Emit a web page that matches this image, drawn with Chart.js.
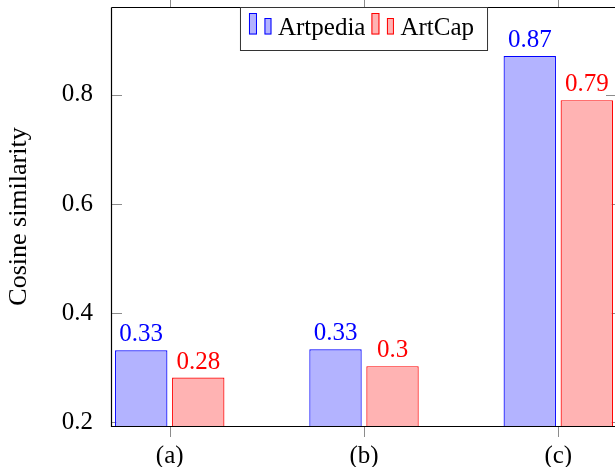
<!DOCTYPE html>
<html><head><meta charset="utf-8">
<script src="https://cdn.jsdelivr.net/npm/chart.js@4/dist/chart.umd.min.js"></script>
<style>html,body{margin:0;padding:0;background:#fff;overflow:hidden}canvas{display:block}</style>
</head><body>
<canvas id="c" width="615" height="467"></canvas>
<script>
const categories = ['(a)', '(b)', '(c)'];
const seriesNames = ['Artpedia', 'ArtCap'];
const artpedia = [0.332, 0.334, 0.871];
const artcap = [0.282, 0.303, 0.790];
const yTicks = [0.2, 0.4, 0.6, 0.8];

const SERIF = '"Liberation Serif", "Times New Roman", serif';
const fmt = v => String(parseFloat(v.toFixed(2)));

const frame = {
  id: 'frame',
  beforeDatasetsDraw(chart) {
    const {ctx, chartArea: a, scales: {x, y}} = chart;
    const right = a.right + 2;
    ctx.save();
    ctx.strokeStyle = '#8c8c8c';
    ctx.lineWidth = 1;
    ctx.beginPath();
    yTicks.forEach(v => {
      const p = Math.round(y.getPixelForValue(v)) + 0.5;
      ctx.moveTo(a.left, p); ctx.lineTo(a.left + 11, p);
      ctx.moveTo(right - 11, p); ctx.lineTo(right, p);
    });
    categories.forEach((c, i) => {
      const p = Math.round(x.getPixelForValue(i)) + 0.5;
      ctx.moveTo(p, a.bottom); ctx.lineTo(p, a.bottom + 11);
      ctx.moveTo(p, a.top); ctx.lineTo(p, a.top - 10);
    });
    ctx.stroke();
    ctx.strokeStyle = '#000';
    ctx.lineWidth = 1.2;
    ctx.beginPath();
    ctx.moveTo(a.left + 0.5, a.top + 0.5); ctx.lineTo(a.left + 0.5, a.bottom + 0.5); ctx.lineTo(right + 5, a.bottom + 0.5);
    ctx.moveTo(a.left + 0.5, a.top + 0.5); ctx.lineTo(right + 5, a.top + 0.5);
    ctx.stroke();
    ctx.restore();
  }
};

const labelsAndLegend = {
  id: 'labelsAndLegend',
  afterDatasetsDraw(chart) {
    const {ctx, chartArea: a} = chart;
    ctx.save();
    ctx.font = '25px ' + SERIF;
    ctx.textAlign = 'center';
    ctx.textBaseline = 'alphabetic';
    chart.data.datasets.forEach((ds, di) => {
      const meta = chart.getDatasetMeta(di);
      meta.data.forEach((bar, i) => {
        ctx.fillStyle = ds.borderColor;
        ctx.fillText(fmt(ds.data[i].y), bar.x, bar.y - 9);
      });
    });
    ctx.font = '25px ' + SERIF;
    ctx.textAlign = 'left';
    const dsets = chart.data.datasets;
    let w = 8.5;
    dsets.forEach((ds, di) => {
      if (di > 0) w += 6;
      w += 8 + 7.5 + 7 + 6.5 + ctx.measureText(ds.label).width;
    });
    w += 13.5;
    const cx = (a.left + a.right + 2) / 2;
    const L = cx - w / 2, T = a.top + 0.5, H = 43;
    ctx.fillStyle = '#fff';
    ctx.fillRect(L, T, w, H);
    ctx.strokeStyle = '#333';
    ctx.lineWidth = 1;
    ctx.strokeRect(L, T, w, H);
    let px = L + 8.5;
    dsets.forEach((ds, di) => {
      if (di > 0) px += 6;
      ctx.fillStyle = ds.backgroundColor;
      ctx.strokeStyle = ds.borderColor;
      ctx.fillRect(px, T + 5.5, 8, 21.5);
      ctx.strokeRect(px + 0.5, T + 6, 7, 20.5);
      px += 8 + 7.5;
      ctx.fillRect(px, T + 10.5, 7, 16.5);
      ctx.strokeRect(px + 0.5, T + 11, 6, 15.5);
      px += 7 + 6.5;
      ctx.fillStyle = '#000';
      ctx.fillText(ds.label, px, T + 27.5);
      px += ctx.measureText(ds.label).width;
    });
    ctx.restore();
  }
};

const toPts = arr => arr.map((v, i) => ({x: i, y: v}));
const noPad = s => { s.paddingTop = 0; s.paddingBottom = 0; s.paddingLeft = 0; s.paddingRight = 0; };

new Chart(document.getElementById('c'), {
  type: 'bar',
  data: {
    datasets: [
      {label: seriesNames[0], data: toPts(artpedia), backgroundColor: 'rgb(179,179,255)', borderColor: '#0000ff', borderWidth: 1.2, borderSkipped: false},
      {label: seriesNames[1], data: toPts(artcap), backgroundColor: 'rgb(255,179,179)', borderColor: '#ff0000', borderWidth: 1.2, borderSkipped: false}
    ]
  },
  options: {
    responsive: false,
    animation: false,
    events: [],
    layout: {padding: {top: 7, right: 0, bottom: 0, left: 0}},
    categoryPercentage: 0.587,
    barPercentage: 0.919,
    plugins: {legend: {display: false}, tooltip: {enabled: false}, title: {display: false}},
    scales: {
      x: {
        type: 'linear',
        offset: false,
        min: -0.3024,
        max: 2.292,
        grid: {display: false},
        border: {display: false},
        afterBuildTicks: s => { s.ticks = categories.map((c, i) => ({value: i})); },
        afterFit: s => { s.height = 41; noPad(s); },
        ticks: {
          padding: 7,
          color: '#000',
          font: {family: SERIF, size: 25},
          callback: v => categories[v]
        }
      },
      y: {
        type: 'linear',
        min: 0.1934,
        max: 0.9606,
        grid: {display: false},
        border: {display: false},
        afterBuildTicks: s => { s.ticks = yTicks.map(v => ({value: v})); },
        afterFit: s => { s.width = 111; noPad(s); },
        ticks: {
          padding: 10,
          color: '#000',
          font: {family: SERIF, size: 25},
          callback: v => v.toFixed(1)
        },
        title: {
          display: true,
          text: 'Cosine similarity',
          color: '#000',
          font: {family: SERIF, size: 26, lineHeight: 1.2},
          padding: {top: 4, bottom: 0}
        }
      }
    }
  },
  plugins: [frame, labelsAndLegend]
});
</script>
</body></html>
